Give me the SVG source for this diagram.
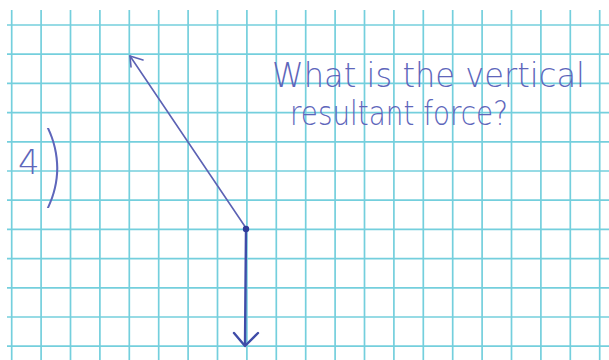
<svg xmlns="http://www.w3.org/2000/svg" width="609" height="360" viewBox="0 0 609 360">
<style>
.grid line{stroke:#74cfdd;stroke-width:1.7}
.ink{fill:none;stroke:#5c62b4;stroke-width:1.6;stroke-linecap:round;stroke-linejoin:round}
.ink2{fill:none;stroke:#3f4ca8;stroke-width:2.4;stroke-linecap:round;stroke-linejoin:round}
.hand{font-family:"DejaVu Sans","Liberation Sans",sans-serif;font-weight:200;fill:#5e66bb}
.thin{font-family:Inter,"DejaVu Sans",sans-serif;font-weight:100}
</style>
<rect width="609" height="360" fill="#ffffff"/>
<g id="grid" class="grid">
<line x1="11.7" y1="10" x2="11.7" y2="360"/>
<line x1="41.1" y1="10" x2="41.1" y2="360"/>
<line x1="70.5" y1="10" x2="70.5" y2="360"/>
<line x1="99.9" y1="10" x2="99.9" y2="360"/>
<line x1="129.3" y1="10" x2="129.3" y2="360"/>
<line x1="158.7" y1="10" x2="158.7" y2="360"/>
<line x1="188.1" y1="10" x2="188.1" y2="360"/>
<line x1="217.5" y1="10" x2="217.5" y2="360"/>
<line x1="246.9" y1="10" x2="246.9" y2="360"/>
<line x1="276.3" y1="10" x2="276.3" y2="360"/>
<line x1="305.7" y1="10" x2="305.7" y2="360"/>
<line x1="335.1" y1="10" x2="335.1" y2="360"/>
<line x1="364.5" y1="10" x2="364.5" y2="360"/>
<line x1="393.9" y1="10" x2="393.9" y2="360"/>
<line x1="423.3" y1="10" x2="423.3" y2="360"/>
<line x1="452.7" y1="10" x2="452.7" y2="360"/>
<line x1="482.1" y1="10" x2="482.1" y2="360"/>
<line x1="511.5" y1="10" x2="511.5" y2="360"/>
<line x1="540.9" y1="10" x2="540.9" y2="360"/>
<line x1="570.3" y1="10" x2="570.3" y2="360"/>
<line x1="599.7" y1="10" x2="599.7" y2="360"/>
<line x1="7" y1="25" x2="609" y2="25"/>
<line x1="7" y1="54.2" x2="609" y2="54.2"/>
<line x1="7" y1="83.4" x2="609" y2="83.4"/>
<line x1="7" y1="112.6" x2="609" y2="112.6"/>
<line x1="7" y1="141.8" x2="609" y2="141.8"/>
<line x1="7" y1="171" x2="609" y2="171"/>
<line x1="7" y1="200.2" x2="609" y2="200.2"/>
<line x1="7" y1="229.4" x2="609" y2="229.4"/>
<line x1="7" y1="258.6" x2="609" y2="258.6"/>
<line x1="7" y1="287.8" x2="609" y2="287.8"/>
<line x1="7" y1="317" x2="609" y2="317"/>
<line x1="7" y1="346.2" x2="609" y2="346.2"/>
</g>
<g id="label-4">
<text class="hand" x="18" y="174" font-size="34">4<tspan class="thin" font-size="88" dx="1" dy="22">)</tspan></text>
</g>
<g id="question">
<text class="hand" x="272" y="87" font-size="33" textLength="313" lengthAdjust="spacingAndGlyphs">What is the vertical</text>
<text class="hand" x="290" y="125" font-size="33" textLength="218" lengthAdjust="spacingAndGlyphs">resultant force?</text>
</g>
<g id="connectors">
<path class="ink" d="M246,228 L130,56"/>
<path class="ink" d="M131,67 L130,56 L143,60"/>
<path class="ink2" d="M246,229 L245,345"/>
<path class="ink2" d="M234,333 L245,346 L258,333"/>
</g>
<g id="junction">
<circle cx="246" cy="229" r="3.2" fill="#2f3c99"/>
</g>
</svg>
